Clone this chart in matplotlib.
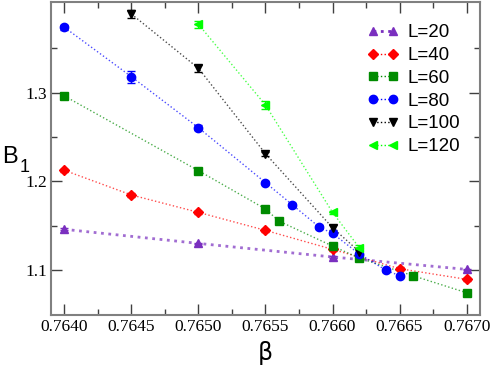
import matplotlib.pyplot as plt
import numpy as np

# B1 cumulant vs beta
beta_20 = [0.7640, 0.7650, 0.7660, 0.7670]
b1_20 = [1.1459, 1.1300, 1.1147, 1.1007]
err_20 = [0.001, 0.001, 0.001, 0.001]

beta_40 = [0.7640, 0.7645, 0.7650, 0.7655, 0.7660, 0.7665, 0.7670]
b1_40 = [1.2124, 1.1846, 1.1650, 1.1447, 1.1233, 1.1015, 1.0895]
err_40 = [0.002, 0.002, 0.002, 0.002, 0.002, 0.002, 0.002]

beta_60 = [0.7640, 0.7650, 0.7655, 0.7656, 0.7660, 0.7662, 0.7666, 0.7670]
b1_60 = [1.2962, 1.2120, 1.1688, 1.1552, 1.1270, 1.1135, 1.0936, 1.0744]
err_60 = [0.002, 0.003, 0.002, 0.002, 0.002, 0.002, 0.002, 0.002]

beta_80 = [0.7640, 0.7645, 0.7650, 0.7655, 0.7657, 0.7659, 0.7660, 0.7662, 0.7664, 0.7665]
b1_80 = [1.3736, 1.3179, 1.2604, 1.1985, 1.1736, 1.1485, 1.1413, 1.1180, 1.0997, 1.0936]
err_80 = [0.003, 0.0068, 0.003, 0.002, 0.002, 0.002, 0.002, 0.002, 0.002, 0.002]

beta_100 = [0.7645, 0.7650, 0.7655, 0.7660, 0.7662]
b1_100 = [1.3886, 1.3274, 1.2311, 1.1477, 1.1206]
err_100 = [0.004, 0.004, 0.002, 0.003, 0.002]

beta_120 = [0.7650, 0.7655, 0.7660, 0.7662]
b1_120 = [1.3770, 1.2860, 1.1650, 1.1251]
err_120 = [0.004, 0.004, 0.002, 0.003]

series = [
    ("L=20", beta_20, b1_20, err_20, "#7a2fbf", "^", 2.0),
    ("L=40", beta_40, b1_40, err_40, "#ff0000", "D", 1.0),
    ("L=60", beta_60, b1_60, err_60, "#008b00", "s", 1.0),
    ("L=80", beta_80, b1_80, err_80, "#0000ff", "o", 1.0),
    ("L=100", beta_100, b1_100, err_100, "#000000", "v", 1.0),
    ("L=120", beta_120, b1_120, err_120, "#00ff00", "<", 1.0),
]

fig = plt.figure(figsize=(4.91, 3.65), dpi=100)
ax = fig.add_axes([51 / 491, 50 / 365, 429 / 491, 313.3 / 365])

for label, x, y, e, c, m, lw in series:
    ms = 6 if m != "D" else 5
    ax.plot(x, y, linestyle=":", color=c, lw=lw, alpha=0.7, zorder=1)
    ax.errorbar(x, y, yerr=e, fmt=m, color=c, ms=ms, capsize=3, elinewidth=1, zorder=2)
    ax.plot([], [], linestyle=":", color=c, lw=lw, marker=m, ms=ms, label=label)

ax.set_xlim(0.76390, 0.76710)
ax.set_ylim(1.0493, 1.4025)
ax.set_xticks([0.7640, 0.7645, 0.7650, 0.7655, 0.7660, 0.7665, 0.7670])
ax.set_xticklabels(["0.7640", "0.7645", "0.7650", "0.7655", "0.7660", "0.7665", "0.7670"],
                   family="Liberation Serif", fontsize=12.5)
ax.set_xticks(np.arange(0.76425, 0.7670, 0.0005), minor=True)
ax.set_yticks([1.1, 1.2, 1.3])
ax.set_yticklabels(["1.1", "1.2", "1.3"], family="Liberation Serif", fontsize=12.5)
ax.set_yticks([1.15, 1.25, 1.35], minor=True)
ax.tick_params(which="both", direction="in", top=True, right=True, color="#404040")
ax.tick_params(which="major", length=8, width=1, pad=3)
ax.tick_params(which="minor", length=4, width=1)
for s in ax.spines.values():
    s.set_color("#808080")
    s.set_linewidth(1.5)

ax.set_xlabel("β", family="DejaVu Sans", fontsize=17, labelpad=4)
fig.text(2 / 491, (365 - 163) / 365, "B", family="Liberation Sans", fontsize=17, va="baseline")
fig.text(20 / 491, (365 - 172) / 365, "1", family="Liberation Sans", fontsize=13, va="baseline")

ax.legend(loc="upper right", bbox_to_anchor=(0.984, 0.97), frameon=False, numpoints=2,
          prop={"family": "Liberation Sans", "size": 13.5}, labelspacing=0.3,
          handlelength=1.7, handletextpad=0.45, borderpad=0.2)

plt.savefig("out.png", dpi=100)
